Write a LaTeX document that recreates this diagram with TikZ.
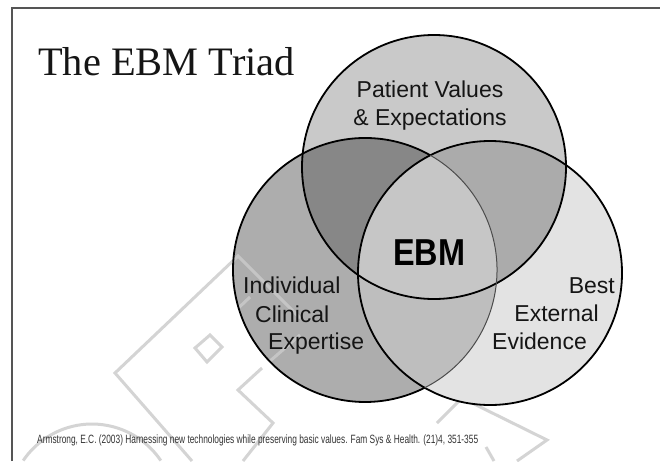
\documentclass[tikz,border=0pt]{standalone}
\usepackage{fontspec}
\usepackage{graphicx}
\setmainfont{Liberation Serif}
\newfontfamily\arialf{Liberation Sans}
\definecolor{onlyT}{HTML}{C9C9C9}
\definecolor{onlyL}{HTML}{ADADAD}
\definecolor{onlyR}{HTML}{E3E3E3}
\definecolor{regTL}{HTML}{878787}
\definecolor{regTR}{HTML}{ABABAB}
\definecolor{regLR}{HTML}{BEBEBE}
\definecolor{regTLR}{HTML}{C6C6C6}
\definecolor{inkc}{HTML}{151515}
\definecolor{wmark}{HTML}{D4D4D4}
\definecolor{framec}{HTML}{555555}
\tikzset{
  outl/.style={draw=black, line width=1.8pt},
  thinl/.style={draw=black!70, line width=1pt},
  wm/.style={draw=wmark, line width=3pt, line join=miter},
  wmover/.style={draw=white, opacity=0.3, line width=3pt},
  lbl/.style={font=\arialf\fontsize{23}{28}\selectfont, text=inkc, inner sep=0pt},
  framel/.style={draw=framec, line width=1.5pt}
}
\begin{document}
\begin{tikzpicture}[x=1pt,y=1pt]
\useasboundingbox (0,0) rectangle (660,-461);
\fill[white] (0,0) rectangle (660,-461);
% frame
\draw[framel] (12,-461) -- (12,-8) -- (660,-8);
% watermark
\draw[wm] (192,-461) -- (115,-373) -- (238,-256) -- (300,-318);
\draw[wm] (195,-348) -- (210,-335) -- (222,-347) -- (207,-362) -- cycle;
\draw[wm] (243,-461) -- (273,-423) -- (238,-390) -- (262,-368);
\draw[wm] (92,-507) ++(34:83pt) arc[start angle=34, end angle=146, radius=83pt];
\draw[wm] (437,-423) -- (462,-398) -- (547,-440) -- (517,-461);
\draw[wm] (486,-447) -- (494,-461);
% circles
\coordinate (cT) at (434,-167);
\coordinate (cL) at (365,-270);
\coordinate (cR) at (490,-273);
\fill[onlyT] (cT) circle (132pt);
\fill[onlyL] (cL) circle (132pt);
\fill[onlyR] (cR) circle (132pt);
\begin{scope}
  \clip (cL) circle (132pt);
  \fill[regLR] (cR) circle (132pt);
\end{scope}
\begin{scope}
  \clip (cT) circle (132pt);
  \fill[regTL] (cL) circle (132pt);
  \fill[regTR] (cR) circle (132pt);
  \clip (cL) circle (132pt);
  \fill[regTLR] (cR) circle (132pt);
\end{scope}
% watermark over circles
\begin{scope}
  \clip (cL) circle (132pt);
  \draw[wmover] (115,-373) -- (238,-256) -- (300,-318);
  \draw[wmover] (238,-390) -- (262,-368) -- (300,-335);
  \draw[wmover] (210,-335) -- (250,-297);
\end{scope}
% outlines
\draw[outl] (cT) circle (132pt);
\draw[outl] (cR) circle (132pt);
\draw[outl] (cL) ++(60.36:132pt) arc[start angle=60.36, end angle=296.9, radius=132pt];
\draw[thinl] (cL) ++(-63.1:132pt) arc[start angle=-63.1, end angle=60.36, radius=132pt];
% texts
\node[anchor=base west, inner sep=0pt, text=inkc, font=\fontsize{40.4}{44}\selectfont] (title) at (38,-75) {The EBM Triad};
\node[lbl, anchor=base] (pv1) at (430,-97) {Patient Values};
\node[lbl, anchor=base] (pv2) at (430,-125) {\& Expectations};
\node[anchor=base, inner sep=0pt, text=black] (ebm) at (429,-265) {\resizebox{72pt}{\height}{\arialf\bfseries\fontsize{37.5}{40}\selectfont EBM}};
\node[lbl, anchor=base west] (ic1) at (243,-293) {Individual};
\node[lbl, anchor=base west] (ic2) at (255,-322) {Clinical};
\node[lbl, anchor=base west] (ic3) at (268,-349) {Expertise};
\node[lbl, anchor=base east] (be1) at (615,-293) {Best};
\node[lbl, anchor=base east] (be2) at (599,-321) {External};
\node[lbl, anchor=base east] (be3) at (587,-349) {Evidence};
\node[anchor=base west, inner sep=0pt, text=black!80] (cite) at (37,-443) {\resizebox{441pt}{\height}{\arialf\fontsize{12}{14}\selectfont Armstrong, E.C. (2003) Harnessing new technologies while preserving basic values. Fam Sys \& Health. (21)4, 351-355}};
\end{tikzpicture}
\end{document}
